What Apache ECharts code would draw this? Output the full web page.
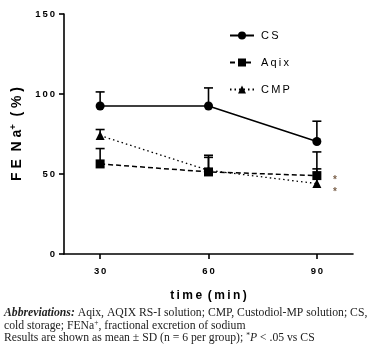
<!DOCTYPE html>
<html>
<head>
<meta charset="utf-8">
<script src="https://cdn.jsdelivr.net/npm/echarts@6/dist/echarts.min.js"></script>
<style>
  html, body { margin: 0; padding: 0; background: #fff; }
  #chart { width: 369px; height: 351px; }
</style>
</head>
<body>
<div id="chart"></div>
<script>
// time points (min)
const times = [30, 60, 90];
const yTicks = [0, 50, 100, 150];

// mean values and SD
const csMean = [92.5, 92.5, 70.3];
const csSD = [8.8, 11.3, 12.7];
const aqixMean = [56.3, 51.3, 49.0];
const aqixSD = [9.6, 9.1, 14.8];
const cmpMean = [74.0, 52.3, 44.0];
const cmpSD = [3.8, 9.4, 9.2];

// significance markers (*P < .05 vs CS) at 90 min
const sigX = [95.0, 95.0];
const sigY = [46.0, 38.5];

const sp = s => s.split('').join('\u2009');

function pairs(xs, ys) { return xs.map((x, i) => [x, ys[i]]); }

function errorSeries(mean, sd) {
  return {
    type: 'custom',
    silent: true,
    z: 1,
    data: times.map((t, i) => [t, mean[i], mean[i] + sd[i]]),
    renderItem: function (params, api) {
      const p0 = api.coord([api.value(0), api.value(1)]);
      const p1 = api.coord([api.value(0), api.value(2)]);
      const style = { stroke: '#000', lineWidth: 1.6 };
      return {
        type: 'group',
        children: [
          { type: 'line', shape: { x1: p0[0], y1: p0[1], x2: p1[0], y2: p1[1] }, style: style },
          { type: 'line', shape: { x1: p1[0] - 4.5, y1: p1[1], x2: p1[0] + 4.5, y2: p1[1] }, style: style }
        ]
      };
    }
  };
}

const chart = echarts.init(document.getElementById('chart'));
chart.setOption({
  animation: false,
  grid: { left: 64, right: 16, top: 14, bottom: 97 },
  legend: {
    data: ['CS', 'Aqix', 'CMP'],
    orient: 'vertical',
    left: 224,
    top: 25,
    itemWidth: 24,
    itemHeight: 10,
    itemGap: 16,
    formatter: n => sp(n),
    textStyle: { fontFamily: 'Liberation Sans', fontSize: 11, color: '#000', padding: [0, 0, 0, 2] }
  },
  xAxis: {
    type: 'value',
    min: 20,
    max: 100,
    interval: 10,
    name: 't\u2009i\u2009m\u2009e\u2009 (\u2009m\u2009i\u2009n\u2009)',
    nameLocation: 'middle',
    nameGap: 36,
    nameTextStyle: { fontFamily: 'Liberation Sans', fontWeight: 'bold', fontSize: 12, color: '#000' },
    axisLine: { lineStyle: { color: '#000', width: 1.6 } },
    axisTick: { customValues: times, length: 5, lineStyle: { color: '#000', width: 1.6 } },
    axisLabel: {
      customValues: times,
      margin: 12,
      formatter: v => sp(String(v)),
      fontFamily: 'Liberation Sans', fontWeight: 'bold', fontSize: 9.5, color: '#000'
    },
    splitLine: { show: false }
  },
  yAxis: {
    type: 'value',
    min: 0,
    max: 150,
    interval: 50,
    name: '{a|F E  N a}{s|+}{a|  ( % )}',
    nameLocation: 'middle',
    nameGap: 38,
    nameTextStyle: {
      rich: {
        a: { fontFamily: 'Liberation Sans', fontWeight: 'bold', fontSize: 14, color: '#000' },
        s: { fontFamily: 'Liberation Sans', fontWeight: 'bold', fontSize: 9, color: '#000', verticalAlign: 'top', padding: [0, 0, 8, 0] }
      }
    },
    axisLine: { show: true, lineStyle: { color: '#000', width: 1.6 } },
    axisTick: { show: true, length: 5, lineStyle: { color: '#000', width: 1.6 } },
    axisLabel: {
      margin: 9,
      formatter: v => sp(String(v)),
      fontFamily: 'Liberation Sans', fontWeight: 'bold', fontSize: 9.5, color: '#000'
    },
    splitLine: { show: false }
  },
  series: [
    errorSeries(csMean, csSD),
    errorSeries(aqixMean, aqixSD),
    errorSeries(cmpMean, cmpSD),
    {
      name: 'CS', type: 'line', z: 3,
      data: pairs(times, csMean),
      symbol: 'circle', symbolSize: 9,
      itemStyle: { color: '#000' },
      lineStyle: { color: '#000', width: 1.5, type: 'solid' }
    },
    {
      name: 'CMP', type: 'line', z: 3,
      data: pairs(times, cmpMean),
      symbol: 'triangle', symbolSize: 9,
      itemStyle: { color: '#000' },
      lineStyle: { color: '#000', width: 1.3, type: [1.5, 3] }
    },
    {
      name: 'Aqix', type: 'line', z: 4,
      data: pairs(times, aqixMean),
      symbol: 'rect', symbolSize: 9,
      itemStyle: { color: '#000' },
      lineStyle: { color: '#000', width: 1.5, type: [5, 3] }
    },
    {
      type: 'scatter', silent: true,
      data: pairs(sigX, sigY),
      symbolSize: 0,
      label: { show: true, position: 'inside', formatter: '*', fontSize: 10, fontWeight: 'bold', color: '#5a3a1e', fontFamily: 'Liberation Sans' }
    }
  ],
  graphic: [
    {
      type: 'text', left: 4, top: 307,
      style: {
        text: '{b|Abbreviations:} Aqix, AQIX RS-I solution; CMP, Custodiol-MP solution; CS,\ncold storage; FENa{s|+}, fractional excretion of sodium\nResults are shown as mean ± SD (n = 6 per group); {s|*}{i|P} < .05 vs CS',
        fontFamily: 'Liberation Serif', fontSize: 11.7, lineHeight: 12.5, fill: '#222',
        rich: {
          b: { fontFamily: 'Liberation Serif', fontStyle: 'italic', fontWeight: 'bold', fontSize: 11.7, lineHeight: 12.5, fill: '#222' },
          i: { fontFamily: 'Liberation Serif', fontStyle: 'italic', fontSize: 11.7, lineHeight: 12.5, fill: '#222' },
          s: { fontFamily: 'Liberation Serif', fontSize: 7.5, lineHeight: 10, fill: '#222', verticalAlign: 'top' }
        }
      }
    }
  ]
});
</script>
</body>
</html>
